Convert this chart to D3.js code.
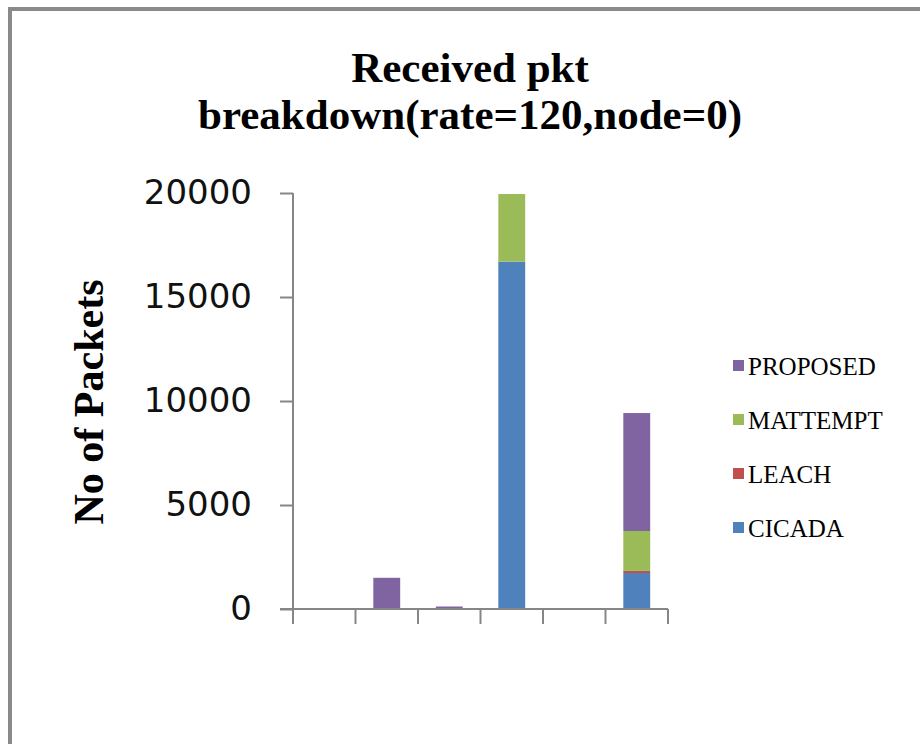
<!DOCTYPE html>
<html><head><meta charset="utf-8">
<script src="https://cdn.jsdelivr.net/npm/d3@7"></script>
<style>html,body{margin:0;padding:0;background:#fff;}svg{display:block;}</style>
</head><body>
<svg id="c" width="920" height="744"></svg>
<script>
const categories = ["1","2","3","4","5","6"];
const seriesNames = ["CICADA","LEACH","MATTEMPT","PROPOSED"];
const CICADA   = [0, 0,    0,   16700, 0, 1730];
const LEACH    = [0, 0,    0,   0,     0, 100];
const MATTEMPT = [0, 0,    0,   3250,  0, 1920];
const PROPOSED = [0, 1500, 120, 0,     0, 5670];
const yTicks = [0, 5000, 10000, 15000, 20000];
const colors = {CICADA:"#4F81BD", LEACH:"#C0504D", MATTEMPT:"#9BBB59", PROPOSED:"#8064A2"};

const svg = d3.select("#c");
const axisColor = "#868686";

// outer frame
svg.append("rect").attr("x",10).attr("y",9).attr("width",940).attr("height",760)
  .attr("fill","none").attr("stroke","#8a8a8a").attr("stroke-width",4);

const x = d3.scaleBand().domain(categories).range([293,668]).padding(0);
const y = d3.scaleLinear().domain([0,20000]).range([609,193]);

const rows = categories.map((c,i)=>({cat:c, CICADA:CICADA[i], LEACH:LEACH[i], MATTEMPT:MATTEMPT[i], PROPOSED:PROPOSED[i]}));
const stack = d3.stack().keys(seriesNames)(rows);
const barW = x.bandwidth()*0.43;

svg.append("g").selectAll("g").data(stack).join("g")
  .attr("fill", d=>colors[d.key])
  .selectAll("rect").data(d=>d).join("rect")
  .attr("x", d=>x(d.data.cat)+(x.bandwidth()-barW)/2)
  .attr("width", barW)
  .attr("y", d=>y(d[1]))
  .attr("height", d=>Math.max(0, y(d[0])-y(d[1])));

// y axis
const ya = svg.append("g").attr("transform","translate(293,0)")
  .call(d3.axisLeft(y).tickValues(yTicks).tickSize(13).tickPadding(28).tickFormat(d3.format("d")));
ya.select(".domain").remove();
ya.selectAll(".tick line").attr("stroke",axisColor).attr("stroke-width",2);
ya.selectAll(".tick text").attr("font-family","DejaVu Sans").attr("font-size",34).attr("fill","#111");
svg.append("line").attr("x1",293).attr("x2",293).attr("y1",y(20000)).attr("y2",624)
  .attr("stroke",axisColor).attr("stroke-width",2);

// x axis
svg.append("line").attr("x1",280).attr("x2",668).attr("y1",y(0)).attr("y2",y(0))
  .attr("stroke",axisColor).attr("stroke-width",2);
const boundaries = categories.map(c=>x(c)).concat([x(categories[categories.length-1])+x.bandwidth()]);
svg.append("g").selectAll("line").data(boundaries).join("line")
  .attr("x1",d=>d).attr("x2",d=>d).attr("y1",y(0)).attr("y2",624)
  .attr("stroke",axisColor).attr("stroke-width",2);

// title
const title = svg.append("text").attr("text-anchor","middle")
  .attr("font-family","Liberation Serif").attr("font-weight","bold").attr("font-size",43).attr("fill","#000");
title.append("tspan").attr("x",470).attr("y",82).text("Received pkt");
title.append("tspan").attr("x",470).attr("y",129).text("breakdown(rate=120,node=0)");

// y label
svg.append("text").attr("transform","rotate(-90)").attr("x",-402).attr("y",103)
  .attr("text-anchor","middle").attr("font-family","Liberation Serif").attr("font-weight","bold")
  .attr("font-size",42).attr("fill","#000").text("No of Packets");

// legend
const legendOrder = ["PROPOSED","MATTEMPT","LEACH","CICADA"];
const lg = svg.append("g").selectAll("g").data(legendOrder).join("g")
  .attr("transform",(d,i)=>`translate(733,${366+i*54})`);
lg.append("rect").attr("x",0).attr("y",-6).attr("width",11).attr("height",11).attr("fill",d=>colors[d]);
lg.append("text").attr("x",15).attr("y",0).attr("dy","0.35em")
  .attr("font-family","Liberation Serif").attr("font-size",25).attr("fill","#000").text(d=>d);
</script>
</body></html>
